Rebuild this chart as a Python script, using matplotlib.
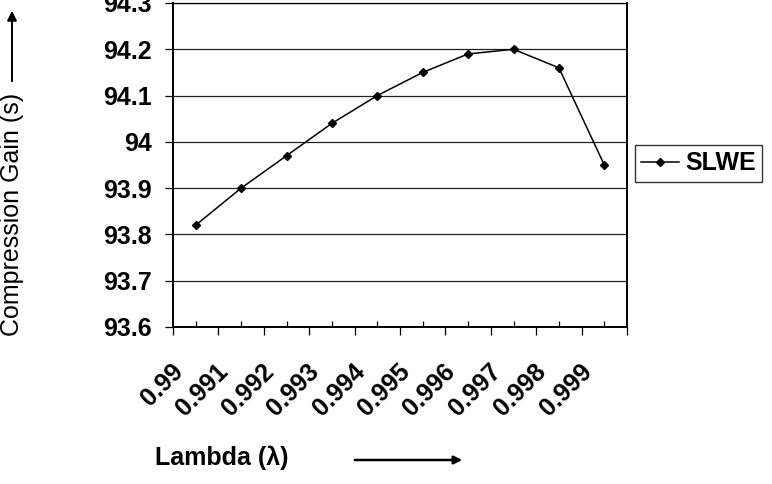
import numpy as np
import matplotlib
matplotlib.use("Agg")
import matplotlib.pyplot as plt
import matplotlib.transforms as mtransforms

plt.rcParams['font.family'] = ['Liberation Sans', 'DejaVu Sans']

# data
lambdas = ["0.99", "0.991", "0.992", "0.993", "0.994", "0.995", "0.996", "0.997", "0.998", "0.999"]
slwe = [93.82, 93.90, 93.97, 94.04, 94.10, 94.15, 94.19, 94.20, 94.16, 93.95]
yticks = [93.6, 93.7, 93.8, 93.9, 94.0, 94.1, 94.2, 94.3]
ytick_labels = ["93.6", "93.7", "93.8", "93.9", "94", "94.1", "94.2", "94.3"]

fig = plt.figure(figsize=(7.72, 4.84), dpi=100)
ax = fig.add_axes([173/772, 1 - 327/484, (627-173)/772, (327-3)/484])

x = np.arange(len(lambdas))
ax.plot(x, slwe, color="black", lw=1.1, marker="D", markersize=4.5, label="SLWE")

ax.set_xlim(-0.5, len(lambdas) - 0.5)
ax.set_ylim(93.6, 94.3)
ax.set_yticks(yticks)
ax.set_yticklabels(ytick_labels, fontsize=18, fontweight="bold")
ax.yaxis.grid(True, color="#222222", lw=0.9)
ax.set_axisbelow(True)
ax.tick_params(axis="y", direction="out", length=6, width=0.9, pad=9)

# category boundaries get outward ticks, centres get inward ticks + labels
ax.set_xticks(np.arange(len(lambdas) + 1) - 0.5)
ax.set_xticklabels([])
ax.tick_params(axis="x", which="major", direction="out", length=6, width=0.9)
ax.set_xticks(x, minor=True)
ax.set_xticklabels(lambdas, minor=True, rotation=45, ha="right", va="top",
                   fontsize=18, fontweight="bold")
ax.tick_params(axis="x", which="minor", direction="in", length=4.5, width=0.9, pad=23)
shift = mtransforms.ScaledTranslation(-0.08, 0, fig.dpi_scale_trans)
for lab in ax.get_xticklabels(minor=True):
    lab.set_transform(lab.get_transform() + shift)

for side in ["left", "right", "bottom"]:
    ax.spines[side].set_linewidth(1.4)
ax.spines["top"].set_linewidth(0.9)

leg = ax.legend(loc="center left", bbox_to_anchor=(635/772, 1 - 163.5/484),
                bbox_transform=fig.transFigure, borderaxespad=0, fancybox=False,
                edgecolor="black", handlelength=1.5, handletextpad=0.25,
                borderpad=0.25, prop={"size": 18, "weight": "bold"})
leg.get_frame().set_linewidth(1.0)

# axis titles with arrows, placed like in the original
fig.text(12/772, 1 - 214/484, "Compression Gain (s)", rotation=90, fontsize=18,
         ha="center", va="center")
fig.add_artist(matplotlib.patches.FancyArrowPatch((12/772, 1 - 84/484), (12/772, 1 - 8/484),
               transform=fig.transFigure, arrowstyle="-|>", mutation_scale=14,
               color="black", lw=1.4))
fig.text(155/772, 1 - 458/484, "Lambda (λ)", fontsize=18, fontweight="bold",
         ha="left", va="center")
fig.add_artist(matplotlib.patches.FancyArrowPatch((352/772, 1 - 460/484), (465/772, 1 - 460/484),
               transform=fig.transFigure, arrowstyle="-|>", mutation_scale=12,
               color="black", lw=1.8))

fig.savefig("out.png", dpi=100)
